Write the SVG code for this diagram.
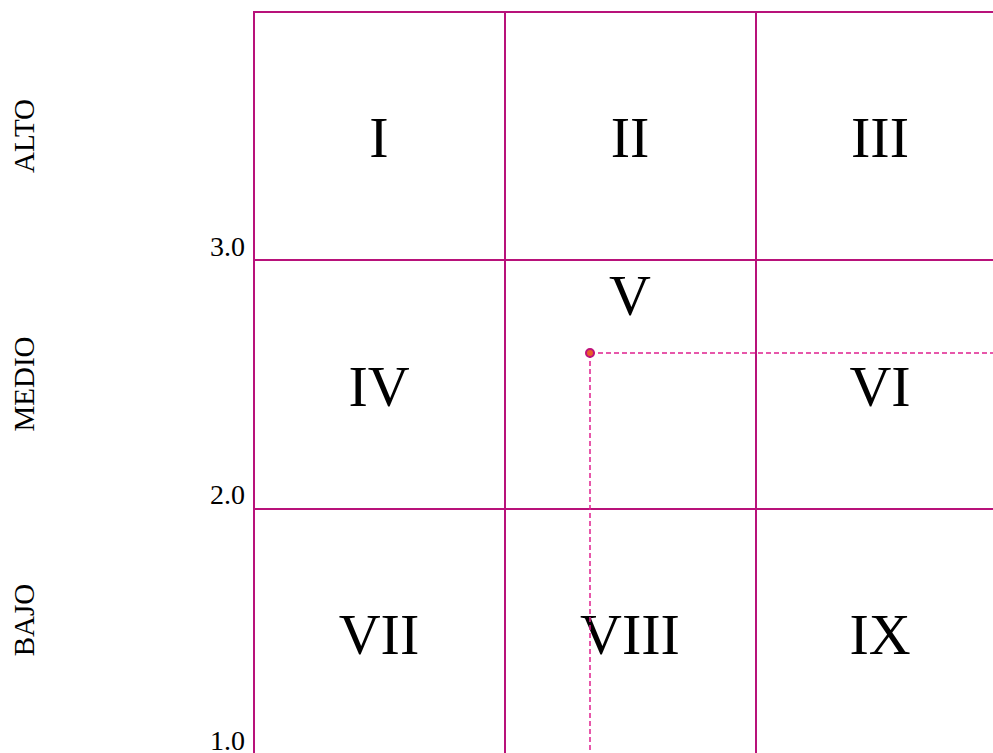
<svg xmlns="http://www.w3.org/2000/svg" width="993" height="753" viewBox="0 0 993 753">
<style>
.grid{stroke:#b8127a;stroke-width:2;fill:none}
.num{font-family:"Liberation Serif",serif;font-size:58px;fill:#000;text-anchor:middle}
.tick{font-family:"Liberation Serif",serif;font-size:28px;fill:#000;text-anchor:end}
.side{font-family:"Liberation Serif",serif;font-size:29px;fill:#000;text-anchor:middle}
.dash{stroke:#e0208f;stroke-width:1.5;stroke-dasharray:5,3;fill:none}
</style>
<rect width="993" height="753" fill="#fff"/>
<g id="grid">
<line class="grid" x1="254" y1="12" x2="254" y2="753"/>
<line class="grid" x1="505" y1="12" x2="505" y2="753"/>
<line class="grid" x1="756" y1="12" x2="756" y2="753"/>
<line class="grid" x1="253" y1="12" x2="993" y2="12"/>
<line class="grid" x1="254" y1="260" x2="993" y2="260"/>
<line class="grid" x1="254" y1="509" x2="993" y2="509"/>
</g>
<g id="cells">
<g id="c1"><text class="num" x="379" y="157">I</text></g>
<g id="c2"><text class="num" x="630" y="157">II</text></g>
<g id="c3"><text class="num" x="880" y="157">III</text></g>
<g id="c4"><text class="num" x="379" y="406">IV</text></g>
<g id="c5"><text class="num" x="630" y="315">V</text></g>
<g id="c6"><text class="num" x="880" y="406">VI</text></g>
<g id="c7"><text class="num" x="379" y="654">VII</text></g>
<g id="c8"><text class="num" x="630" y="654">VIII</text></g>
<g id="c9"><text class="num" x="880" y="654">IX</text></g>
</g>
<g id="ticks">
<text class="tick" x="245" y="256">3.0</text>
<text class="tick" x="245" y="504">2.0</text>
<text class="tick" x="245" y="750">1.0</text>
</g>
<g id="sides">
<text class="side" transform="translate(34,136) rotate(-90)">ALTO</text>
<text class="side" transform="translate(34,384) rotate(-90)">MEDIO</text>
<text class="side" transform="translate(34,620) rotate(-90)">BAJO</text>
</g>
<g id="connectors">
<line class="dash" x1="590" y1="353" x2="993" y2="353"/>
<line class="dash" x1="590" y1="353" x2="590" y2="753"/>
</g>
<g id="point">
<circle cx="590" cy="353" r="4" fill="#e8602a" stroke="#c0127a" stroke-width="2"/>
</g>
</svg>
